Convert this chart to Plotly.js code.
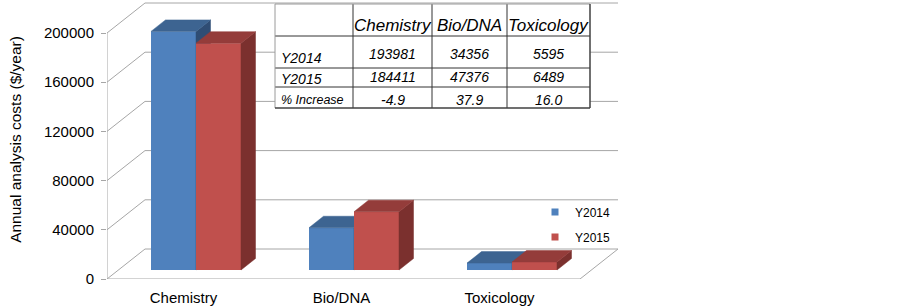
<!DOCTYPE html>
<html><head><meta charset="utf-8">
<script src="https://cdn.plot.ly/plotly-3.0.1.min.js"></script>
<style>html,body{margin:0;padding:0;background:#fff}</style>
</head><body><div id="chart" style="width:903px;height:307px"></div>
<script>
// ---- data ----
const categories = ['Chemistry', 'Bio/DNA', 'Toxicology'];
const seriesNames = ['Y2014', 'Y2015'];
const y2014 = [193981, 34356, 5595];
const y2015 = [184411, 47376, 6489];
const pctIncrease = ['-4.9', '37.9', '16.0'];
const tableRowLabels = ['Y2014', 'Y2015', '% Increase'];
const yTicks = [0, 40000, 80000, 120000, 160000, 200000];
const yTickText = ['0', '40000', '80000', '120000', '160000', '200000'];
const yTitle = 'Annual analysis costs ($/year)';

// ---- geometry (pixels) ----
const PL = 107, PR = 618, PT = 0, PB = 279;
const CAT0 = 196, CATSTEP = 158;
const S = 246 / 200000;            // px per value unit
const xRange = [(PL - CAT0) / CATSTEP, (PR - CAT0) / CATSTEP];
const yRange = [0, (PB - PT) / S];
const barPlane = 9;
const y2Range = [-barPlane / S, (PB - PT - barPlane) / S];
const wallDX = 38 / CATSTEP, wallDY = 30 / S;
const barDX = 14.5 / CATSTEP, barDY = 11.5 / S;
const barW = 45 / CATSTEP;
const labelShift = 12.5 / CATSTEP;
const px2x = px => (px - PL) / (PR - PL);
const px2y = py => (PB - py) / (PB - PT);

const C = {
  blue: '#4F81BD', blueTop: '#3D6491', blueSide: '#2F4D74',
  red: '#C0504D', redTop: '#943C3A', redSide: '#7B302E',
  grid: '#a6a6a6', font: 'Liberation Sans, Arial, sans-serif'
};

const xs = categories.map((c, i) => i);

function faces(vals, off, kind) {
  const X = [], Y = [];
  vals.forEach((v, i) => {
    const xl = i + off, xr = xl + barW;
    let pts;
    if (kind === 'top') pts = [[xl, v], [xr, v], [xr + barDX, v + barDY], [xl + barDX, v + barDY]];
    else pts = [[xr, 0], [xr, v], [xr + barDX, v + barDY], [xr + barDX, barDY]];
    pts.forEach(p => { X.push(p[0]); Y.push(p[1]); });
    X.push(pts[0][0]); Y.push(pts[0][1]);
    X.push(null); Y.push(null);
  });
  return { X, Y };
}

function faceTrace(vals, off, kind, color, yaxis) {
  const f = faces(vals, off, kind);
  return { type: 'scatter', x: f.X, y: f.Y, yaxis, mode: 'lines', fill: 'toself',
    fillcolor: color, line: { color, width: 0.5 }, hoverinfo: 'skip', showlegend: false };
}

const traces = [
  { type: 'bar', x: xs, y: y2014, yaxis: 'y2', width: barW, offset: -barW,
    marker: { color: C.blue, line: { width: 0 } }, showlegend: false, hoverinfo: 'skip', name: seriesNames[0] },
  faceTrace(y2014, -barW, 'side', C.blueSide, 'y2'),
  faceTrace(y2014, -barW, 'top', C.blueTop, 'y2'),
  { type: 'bar', x: xs, y: y2015, yaxis: 'y3', width: barW, offset: 0,
    marker: { color: C.red, line: { width: 0 } }, showlegend: false, hoverinfo: 'skip', name: seriesNames[1] },
  faceTrace(y2015, 0, 'side', C.redSide, 'y3'),
  faceTrace(y2015, 0, 'top', C.redTop, 'y3'),
  { type: 'scatter', x: [null], y: [null], mode: 'markers', name: seriesNames[0], legend: 'legend',
    marker: { symbol: 'square', size: 7, color: C.blue } },
  { type: 'scatter', x: [null], y: [null], mode: 'markers', name: seriesNames[1], legend: 'legend2',
    marker: { symbol: 'square', size: 7, color: C.red } }
];

// ---- shapes: walls / floor ----
const gl = { color: C.grid, width: 1 };
const shapes = [];
const x0 = xRange[0], xb = xRange[0] + wallDX, xFR = xRange[1] - wallDX;
shapes.push({ type: 'line', xref: 'x', yref: 'y', x0: x0, x1: x0, y0: 0, y1: yTicks[yTicks.length - 1], line: gl, layer: 'below' });
yTicks.forEach(v => {
  shapes.push({ type: 'line', xref: 'x', yref: 'y', x0: x0, y0: v, x1: xb, y1: v + wallDY, line: gl, layer: 'below' });
  shapes.push({ type: 'line', xref: 'x', yref: 'y', x0: xb, y0: v + wallDY, x1: xRange[1], y1: v + wallDY, line: gl, layer: 'below' });
});
shapes.push({ type: 'line', xref: 'x', yref: 'y', x0: x0, y0: 0, x1: xFR, y1: 0, line: gl, layer: 'below' });
shapes.push({ type: 'line', xref: 'x', yref: 'y', x0: xFR, y0: 0, x1: xRange[1], y1: wallDY, line: gl, layer: 'below' });

// ---- table ----
const T = { l: 275, r: 590, t: 4, b: 108, rows: [36, 68, 87], cols: [353, 432, 507] };
const colCenters = [(T.cols[0] + T.cols[1]) / 2, (T.cols[1] + T.cols[2]) / 2, (T.cols[2] + T.r) / 2];
shapes.push({ type: 'rect', xref: 'paper', yref: 'paper', x0: px2x(T.l), x1: px2x(T.r), y0: px2y(T.b), y1: px2y(T.t),
  fillcolor: '#ffffff', line: { width: 0 }, layer: 'above' });
const tl = { color: '#333333', width: 1 };
T.rows.forEach(py => shapes.push({ type: 'line', xref: 'paper', yref: 'paper', x0: px2x(T.l), x1: px2x(T.r), y0: px2y(py), y1: px2y(py), line: tl, layer: 'above' }));
T.cols.forEach(px => shapes.push({ type: 'line', xref: 'paper', yref: 'paper', x0: px2x(px), x1: px2x(px), y0: px2y(T.t), y1: px2y(T.b), line: tl, layer: 'above' }));
shapes.push({ type: 'line', xref: 'paper', yref: 'paper', x0: px2x(T.l), x1: px2x(T.r), y0: px2y(T.t), y1: px2y(T.t), line: { color: '#9a9a9a', width: 1 }, layer: 'above' });
shapes.push({ type: 'line', xref: 'paper', yref: 'paper', x0: px2x(T.l), x1: px2x(T.l), y0: px2y(T.t), y1: px2y(T.b), line: { color: '#9a9a9a', width: 1 }, layer: 'above' });
shapes.push({ type: 'line', xref: 'paper', yref: 'paper', x0: px2x(T.r), x1: px2x(T.r), y0: px2y(T.t), y1: px2y(T.b), line: { color: '#404040', width: 1.5 }, layer: 'above' });
shapes.push({ type: 'line', xref: 'paper', yref: 'paper', x0: px2x(T.l), x1: px2x(T.r), y0: px2y(T.b), y1: px2y(T.b), line: { color: '#404040', width: 1.5 }, layer: 'above' });

const annotations = [];
const ann = (text, px, py, size, xanchor) => annotations.push({
  text, xref: 'paper', yref: 'paper', x: px2x(px), y: px2y(py), xanchor: xanchor || 'center', yanchor: 'middle',
  showarrow: false, font: { family: C.font, size, color: '#000', style: 'italic' } });
categories.forEach((c, j) => ann(c, colCenters[j], 26, 17));
const rowCY = [54, 77, 100], rowLY = [58, 79, 99.5];
const rowVals = [y2014.map(String), y2015.map(String), pctIncrease];
tableRowLabels.forEach((lab, r) => {
  ann(lab, 279, rowLY[r], r === 2 ? 12.5 : 14, 'left');
  rowVals[r].forEach((v, j) => ann(v, colCenters[j], rowCY[r], 14));
});

const legendBase = { bgcolor: 'rgba(0,0,0,0)', font: { family: C.font, size: 12, color: '#000' },
  xanchor: 'left', yanchor: 'middle', itemwidth: 30 };

const layout = {
  width: 903, height: 307,
  margin: { l: PL, r: 903 - PR, t: PT, b: 307 - PB, pad: 0 },
  paper_bgcolor: '#fff', plot_bgcolor: 'rgba(0,0,0,0)',
  font: { family: C.font, color: '#000' },
  barmode: 'overlay',
  showlegend: true,
  xaxis: { range: xRange, showgrid: false, zeroline: false, showline: false, ticks: '',
    tickvals: xs.map(i => i - labelShift), ticktext: categories, tickfont: { size: 15, color: '#000' },
    ticklabelstandoff: 8 },
  yaxis: { range: yRange, tickvals: yTicks, ticktext: yTickText, ticks: 'outside', ticklen: 5, tickcolor: C.grid,
    showgrid: false, zeroline: false, showline: false, tickfont: { size: 15, color: '#000' },
    ticklabelstandoff: 4,
    title: { text: yTitle, font: { size: 15.5, color: '#000' }, standoff: 18 } },
  yaxis2: { overlaying: 'y', range: y2Range, visible: false },
  yaxis3: { overlaying: 'y', range: y2Range, visible: false },
  legend: Object.assign({}, legendBase, { x: px2x(535), y: px2y(212) }),
  legend2: Object.assign({}, legendBase, { x: px2x(535), y: px2y(237) }),
  shapes, annotations
};

Plotly.newPlot('chart', traces, layout, { displayModeBar: false, staticPlot: true });
</script></body></html>
